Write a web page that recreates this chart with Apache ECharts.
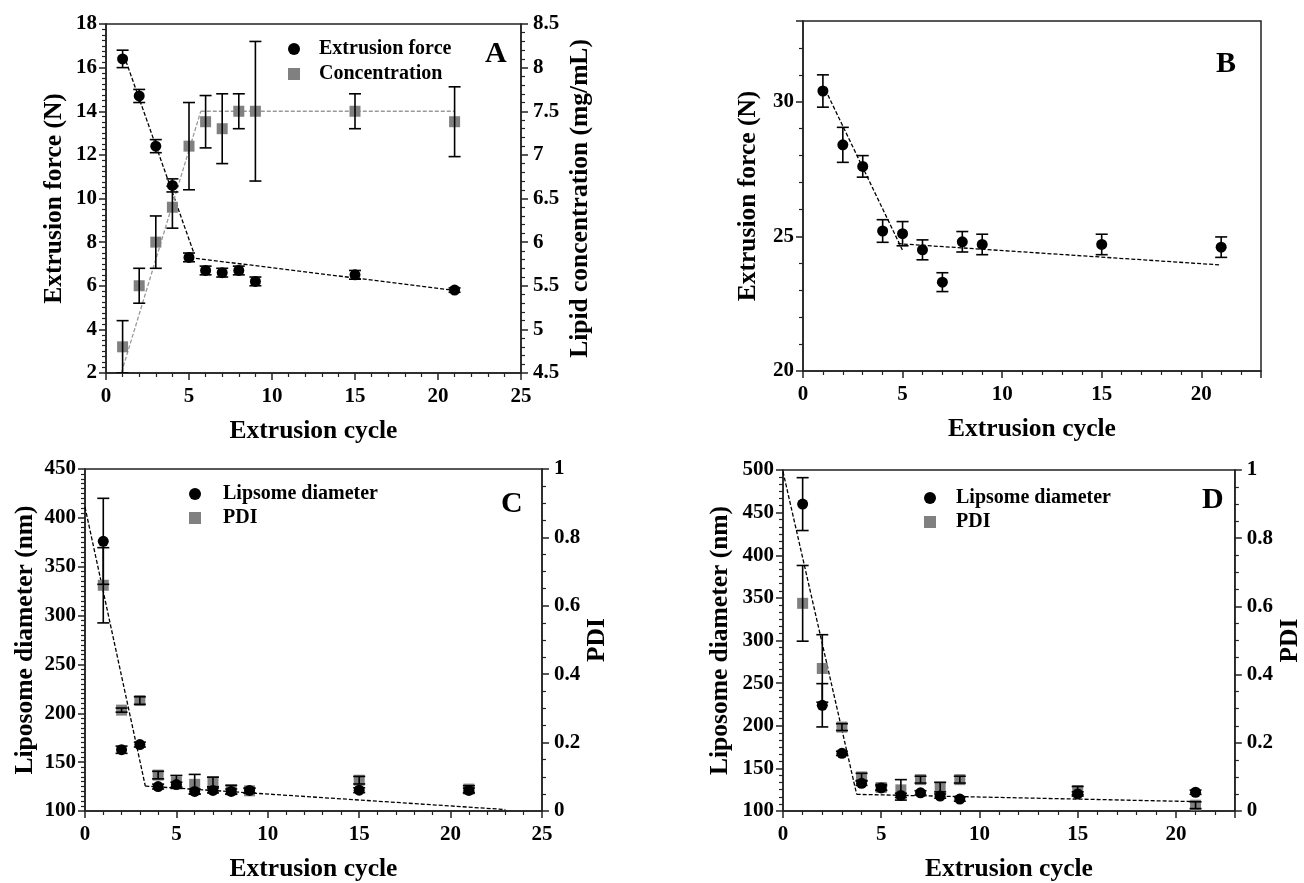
<!DOCTYPE html>
<html>
<head>
<meta charset="utf-8">
<script src="https://cdn.jsdelivr.net/npm/echarts@6/dist/echarts.min.js"></script>
<style>
html,body{margin:0;padding:0;background:#fff;}
#chart{width:1304px;height:883px;}
</style>
</head>
<body>
<div id="chart"></div>
<script>
// ---------- data ----------
const cycles = [1, 2, 3, 4, 5, 6, 7, 8, 9, 15, 21];

// Panel A
const forceA = [16.4, 14.7, 12.4, 10.6, 7.3, 6.7, 6.6, 6.7, 6.2, 6.5, 5.8];
const forceErrA = [0.4, 0.3, 0.3, 0.3, 0.2, 0.2, 0.2, 0.2, 0.2, 0.2, 0.1];
const concA = [4.8, 5.5, 6.0, 6.4, 7.1, 7.38, 7.3, 7.5, 7.5, 7.5, 7.38];
const concErrA = [0.3, 0.2, 0.3, 0.24, 0.5, 0.3, 0.4, 0.2, 0.8, 0.2, 0.4];
const fitForceA1 = [[1.2, 16.3], [5.27, 7.55]];
const fitForceA2 = [[5.06, 7.29], [21, 5.79]];
const fitConcA1 = [[0.94, 4.51], [5.71, 7.5]];
const fitConcA2 = [[5.71, 7.5], [21, 7.5]];

// Panel B
const forceB = [30.4, 28.4, 27.6, 25.2, 25.1, 24.5, 23.3, 24.8, 24.7, 24.7, 24.6];
const forceErrB = [0.6, 0.65, 0.4, 0.42, 0.45, 0.37, 0.35, 0.38, 0.38, 0.38, 0.38];
const fitB1 = [[1.25, 30.25], [4.99, 24.5]];
const fitB2 = [[4.76, 24.73], [20.94, 23.94]];

// Panel C
const diaC = [376, 162.7, 168, 125, 127, 120, 121, 120, 121, 121.3, 121];
const diaErrC = [44, 3.7, 2.5, 2.5, 2.5, 2.5, 2.5, 2.5, 2.5, 2.5, 2.5];
const pdiC = [0.66, 0.295, 0.323, 0.105, 0.085, 0.078, 0.085, 0.062, 0.059, 0.09, 0.064];
const pdiErrC = [0.11, 0.006, 0.011, 0.011, 0.019, 0.029, 0.014, 0.013, 0.007, 0.011, 0.01];
const fitC1 = [[0, 411], [3.3, 125.5]];
const fitC2 = [[3.3, 125.5], [23, 101.5]];

// Panel D
const diaD = [460, 224, 167.6, 132.5, 127, 118.3, 121.3, 117.5, 114, 120, 122];
const diaErrD = [31, 25.4, 2.5, 2.5, 2.5, 2.5, 2.5, 2.5, 2.5, 2.5, 2.5];
const pdiD = [0.609, 0.418, 0.246, 0.1, 0.069, 0.062, 0.092, 0.07, 0.092, 0.06, 0.017];
const pdiErrD = [0.111, 0.099, 0.01, 0.0105, 0.009, 0.03, 0.01, 0.014, 0.01, 0.012, 0.01];
const fitD1 = [[0, 498], [3.75, 119.5]];
const fitD2 = [[3.75, 119.5], [21, 111]];

// ---------- helpers ----------
const FONT = "'Liberation Serif', 'Times New Roman', serif";
const zip = (xs, ys) => xs.map((x, i) => [x, ys[i]]);
const zip3 = (xs, ys, es) => xs.map((x, i) => [x, ys[i], es[i]]);

function xAxisDef(gi, max) {
  return {
    type: 'value', gridIndex: gi, min: 0, max: max, interval: 5,
    name: 'Extrusion cycle', nameLocation: 'middle', nameGap: 45,
    nameTextStyle: {fontFamily: FONT, fontWeight: 'bold', fontSize: 25.5, color: '#000'},
    axisLine: {onZero: false, lineStyle: {color: '#222', width: 1.5}},
    axisTick: {show: true, inside: false, length: 7, lineStyle: {color: '#222', width: 1.5}},
    minorTick: {show: true, splitNumber: 5, length: 4, lineStyle: {color: '#222', width: 1.2}},
    splitLine: {show: false},
    axisLabel: {fontFamily: FONT, fontWeight: 'bold', fontSize: 21, color: '#000', margin: 13,
      formatter: v => (v % 5 === 0 ? String(v) : '')}
  };
}
function yAxisDef(gi, min, max, interval, split, pos, name, gap, fmt) {
  return {
    type: 'value', gridIndex: gi, min: min, max: max, interval: interval, position: pos,
    name: name, nameLocation: 'middle', nameGap: gap, nameRotate: 90,
    nameTextStyle: {fontFamily: FONT, fontWeight: 'bold', fontSize: 25.5, color: '#000'},
    axisLine: {show: true, onZero: false, lineStyle: {color: '#222', width: 1.5}},
    axisTick: {show: true, inside: false, length: 7, lineStyle: {color: '#222', width: 1.5}},
    minorTick: {show: true, splitNumber: split, length: 4, lineStyle: {color: '#222', width: 1.2}},
    splitLine: {show: false},
    axisLabel: {fontFamily: FONT, fontWeight: 'bold', fontSize: 21, color: '#000',
      margin: pos === 'right' ? 12 : 9,
      formatter: fmt || (v => String(v))}
  };
}
function errRender(params, api) {
  const x = api.value(0), y = api.value(1), e = api.value(2);
  const hi = api.coord([x, y + e]), lo = api.coord([x, y - e]);
  const hw = 6;
  const st = {stroke: '#000', lineWidth: 1.6, fill: null};
  return {type: 'group', children: [
    {type: 'line', shape: {x1: hi[0], y1: hi[1], x2: lo[0], y2: lo[1]}, style: st},
    {type: 'line', shape: {x1: hi[0] - hw, y1: hi[1], x2: hi[0] + hw, y2: hi[1]}, style: st},
    {type: 'line', shape: {x1: lo[0] - hw, y1: lo[1], x2: lo[0] + hw, y2: lo[1]}, style: st}
  ]};
}
function errSeries(xi, yi, data) {
  return {type: 'custom', xAxisIndex: xi, yAxisIndex: yi, renderItem: errRender, data: data,
    encode: {x: 0, y: 1}, clip: true, z: 5, silent: true};
}
function scat(name, xi, yi, data, shape) {
  return {type: 'scatter', name: name, xAxisIndex: xi, yAxisIndex: yi, data: data,
    symbol: shape === 'sq' ? 'rect' : 'circle', symbolSize: 11,
    itemStyle: {color: shape === 'sq' ? '#808080' : '#000', opacity: 1}, z: 4, silent: true};
}
function fit(xi, yi, data, color) {
  return {type: 'line', xAxisIndex: xi, yAxisIndex: yi, data: data, symbol: 'none',
    lineStyle: {color: color || '#000', width: 1.3, type: [4, 2]}, z: 3, silent: true, animation: false};
}

const chart = echarts.init(document.getElementById('chart'), null, {renderer: 'canvas'});
const gridStyle = {show: true, borderColor: '#222', borderWidth: 1.5, backgroundColor: 'transparent'};
const legendText = (pad) => ({fontFamily: FONT, fontWeight: 'bold', fontSize: 20, color: '#000', padding: [0, 0, 0, pad]});
const letter = (t, left, top) => ({text: t, left: left, top: top, padding: 0,
  textStyle: {fontFamily: FONT, fontWeight: 'bold', fontSize: 30, color: '#000'}});

const option = {
  animation: false,
  backgroundColor: '#fff',
  title: [letter('A', 485, 39), letter('B', 1216, 49), letter('C', 501, 489), letter('D', 1202, 485)],
  grid: [
    Object.assign({left: 106, top: 24, width: 415, height: 349}, gridStyle),
    Object.assign({left: 803, top: 21, width: 458, height: 350}, gridStyle),
    Object.assign({left: 85, top: 469, width: 457, height: 350}, gridStyle),
    Object.assign({left: 783, top: 470, width: 457, height: 349}, gridStyle)
  ],
  legend: [
    {left: 283, top: 34, orient: 'vertical', itemWidth: 12, itemHeight: 12, itemGap: 5, selectedMode: false,
      data: [{name: 'Extrusion force', icon: 'circle'}, {name: 'Concentration', icon: 'rect'}], textStyle: legendText(14)},
    {left: 184, top: 479, orient: 'vertical', itemWidth: 12, itemHeight: 12, itemGap: 4, selectedMode: false,
      data: [{name: 'Lipsome diameter', icon: 'circle'}, {name: 'PDI', icon: 'rect'}], textStyle: legendText(17)},
    {left: 919, top: 483, orient: 'vertical', itemWidth: 12, itemHeight: 12, itemGap: 4, selectedMode: false,
      data: [{name: 'Lipsome diameter', icon: 'circle'}, {name: 'PDI', icon: 'rect'}], textStyle: legendText(15)}
  ],
  xAxis: [xAxisDef(0, 25), xAxisDef(1, 23), xAxisDef(2, 25), xAxisDef(3, 23)],
  yAxis: [
    yAxisDef(0, 2, 18, 2, 8, 'left', 'Extrusion force (N)', 39),
    yAxisDef(0, 4.5, 8.5, 0.5, 5, 'right', 'Lipid concentration (mg/mL)', 46),
    yAxisDef(1, 20, 33, 5, 5, 'left', 'Extrusion force (N)', 42, v => (v % 5 === 0 ? String(v) : '')),
    yAxisDef(2, 100, 450, 50, 10, 'left', 'Liposome diameter (nm)', 47),
    yAxisDef(2, 0, 1, 0.2, 4, 'right', 'PDI', 42),
    yAxisDef(3, 100, 500, 50, 6, 'left', 'Liposome diameter (nm)', 50),
    yAxisDef(3, 0, 1, 0.2, 4, 'right', 'PDI', 42)
  ],
  series: [
    // A
    fit(0, 0, fitForceA1), fit(0, 0, fitForceA2),
    fit(0, 1, fitConcA1, '#999'), fit(0, 1, fitConcA2, '#999'),
    scat('Extrusion force', 0, 0, zip(cycles, forceA), 'dot'),
    scat('Concentration', 0, 1, zip(cycles, concA), 'sq'),
    errSeries(0, 0, zip3(cycles, forceA, forceErrA)),
    errSeries(0, 1, zip3(cycles, concA, concErrA)),
    // B
    fit(1, 2, fitB1), fit(1, 2, fitB2),
    scat('Extrusion force (B)', 1, 2, zip(cycles, forceB), 'dot'),
    errSeries(1, 2, zip3(cycles, forceB, forceErrB)),
    // C
    fit(2, 3, fitC1), fit(2, 3, fitC2),
    scat('PDI', 2, 4, zip(cycles, pdiC), 'sq'),
    scat('Lipsome diameter', 2, 3, zip(cycles, diaC), 'dot'),
    errSeries(2, 3, zip3(cycles, diaC, diaErrC)),
    errSeries(2, 4, zip3(cycles, pdiC, pdiErrC)),
    // D
    fit(3, 5, fitD1), fit(3, 5, fitD2),
    scat('PDI', 3, 6, zip(cycles, pdiD), 'sq'),
    scat('Lipsome diameter', 3, 5, zip(cycles, diaD), 'dot'),
    errSeries(3, 5, zip3(cycles, diaD, diaErrD)),
    errSeries(3, 6, zip3(cycles, pdiD, pdiErrD))
  ]
};
chart.setOption(option);
</script>
</body>
</html>
